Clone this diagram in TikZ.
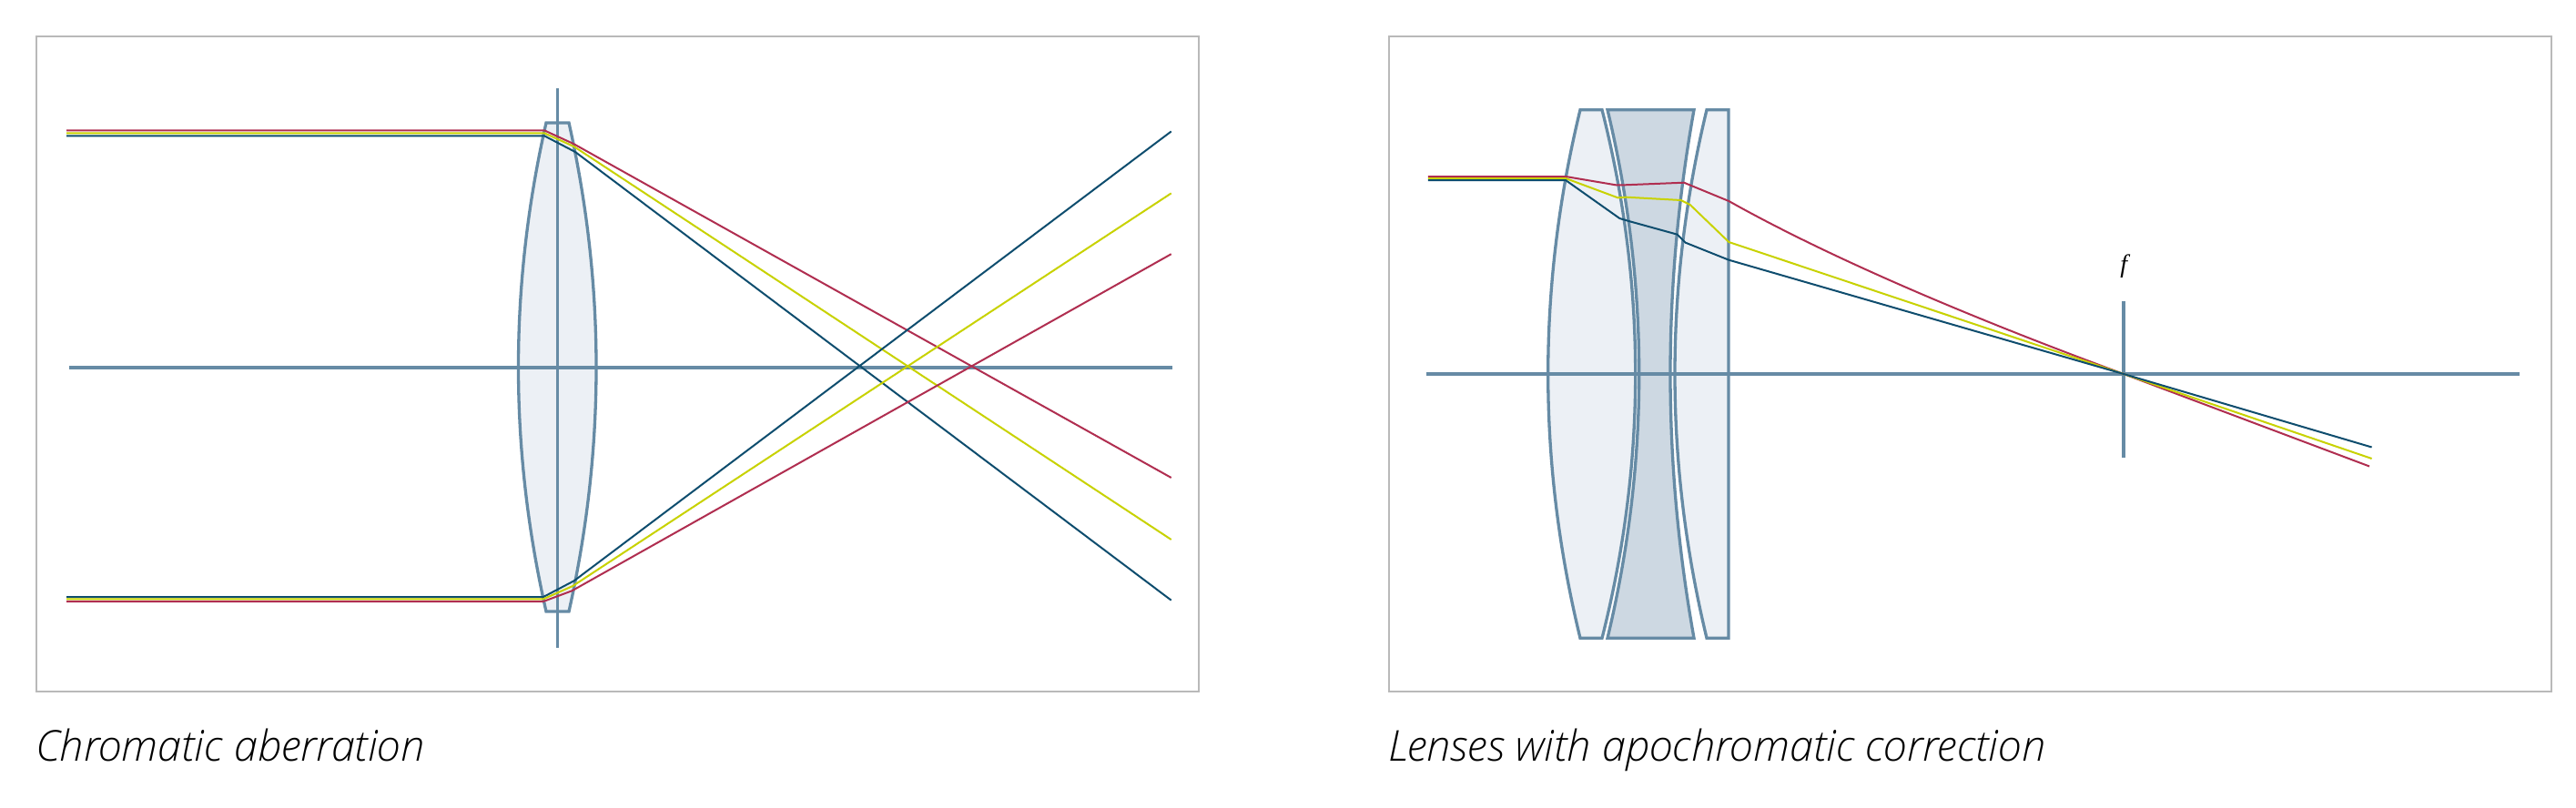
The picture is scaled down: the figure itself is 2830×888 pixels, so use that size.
\documentclass[tikz,border=0pt]{standalone}
\usepackage{fontspec}
\setmainfont{Open Sans}
\IfFontExistsTF{Open Sans Light Italic}
  {\newfontfamily\capfont{Open Sans Light Italic}}
  {\newfontfamily\capfont{Open Sans}[UprightFont=*-Italic]}
\newfontfamily\ffont{Liberation Serif}
\definecolor{framegrey}{HTML}{B9B9B9}
\definecolor{steel}{HTML}{668BA5}
\definecolor{lenslight}{HTML}{ECF0F5}
\definecolor{lensdarkc}{HTML}{CDD8E2}
\definecolor{rayred}{HTML}{B02E50}
\definecolor{rayyellow}{HTML}{C8D200}
\definecolor{rayblue}{HTML}{0E4D6E}
\tikzset{
  panel/.style={draw=framegrey, line width=1.6},
  steelline/.style={draw=steel, line width=3.4},
  axisline/.style={draw=steel, line width=4},
  lensA/.style={fill=lenslight, draw=steel, line width=3.3, line join=miter},
  lensB/.style={fill=lensdarkc, draw=steel, line width=3.3, line join=miter},
  ray/.style={line width=2, line join=round},
  redray/.style={ray, draw=rayred},
  yelray/.style={ray, draw=rayyellow},
  bluray/.style={ray, draw=rayblue},
  caption/.style={font=\capfont\fontsize{46.8}{52}\selectfont, anchor=base west, inner sep=0pt},
}
\begin{document}
\begin{tikzpicture}[x=1pt,y=-1pt]
\useasboundingbox (0,0) rectangle (2830,888);
\fill[white] (0,0) rectangle (2830,888);
% ---------------- left panel ----------------
\draw[panel] (40,40) rectangle (1317,760);
\draw[lensA] (600,135) -- (625,135) .. controls (665,314) and (665,493) .. (625,672)
   -- (600,672) .. controls (559.33,493) and (559.33,314) .. cycle;
\draw[axisline] (76,404) -- (1288.4,404);
\draw[steelline] (612.5,96.7) -- (612.5,712);
% top rays
\draw[redray] (73.2,143.3) -- (598,143.3) -- (630,158) -- (1286.7,525);
\draw[yelray] (73.2,146.3) -- (598,146.3) -- (630.5,161) -- (1286.7,593);
\draw[bluray] (73.2,149.3) -- (598,149.3) -- (632,167) -- (1286.7,659.7);
% bottom rays
\draw[bluray] (73.2,656) -- (597,656) -- (630.7,638.3) -- (1286.7,144.4);
\draw[yelray] (73.2,658.3) -- (597,658.3) -- (629.3,644) -- (1286.7,212.4);
\draw[redray] (73.2,661) -- (597,661) -- (628.3,649.3) -- (1286.7,279.2);
\node[caption] (capA) at (39,836.7) {Chromatic aberration};
% ---------------- right panel ----------------
\draw[panel] (1526,40) rectangle (2803,760);
% lens 1
\draw[lensA] (1736,120.7) -- (1760,120.7) .. controls (1808.93,314.2) and (1808.93,507.8) .. (1760,701.3)
   -- (1736,701.3) .. controls (1688.93,507.8) and (1688.93,314.2) .. cycle;
% lens 2
\draw[lensB] (1766,120.7) -- (1861,120.7) .. controls (1826.33,314.2) and (1826.33,507.8) .. (1861,701.3)
   -- (1766,701.3) .. controls (1812.27,507.8) and (1812.27,314.2) .. cycle;
% lens 3
\draw[lensA] (1875,120.7) -- (1899,120.7) -- (1899,701.3)
   -- (1875,701.3) .. controls (1828.33,507.8) and (1828.33,314.2) .. cycle;
\draw[axisline] (1567,411) -- (2767.5,411);
\draw[axisline] (2333,331) -- (2333,502.9);
\node[inner sep=0pt, font=\ffont\itshape\fontsize{28}{28}\selectfont] (flabel) at (2333.3,292.5) {f};
\coordinate (focus) at (2333,411);
\draw[redray] (1568.8,194) -- (1720,194) -- (1775,203.3) -- (1785,203.3) -- (1850,200.7) -- (1899.3,221)
   .. controls (2040,300) and (2230,373) .. (focus) -- (2603,512.5);
\draw[yelray] (1568.8,196) -- (1720,196) -- (1777.3,217.3) -- (1786.7,216.7) -- (1846.7,220) -- (1856.7,225)
   -- (1899.3,266) -- (focus) -- (2605.6,504);
\draw[bluray] (1568.8,198) -- (1720,198) -- (1779.3,240) -- (1788.3,242.7) -- (1842.7,257.7) -- (1851.7,266.7)
   -- (1899.3,285.7) -- (focus) -- (2605.6,491.5);
\node[caption] (capB) at (1525,836.7) {Lenses with apochromatic correction};
\end{tikzpicture}
\end{document}
